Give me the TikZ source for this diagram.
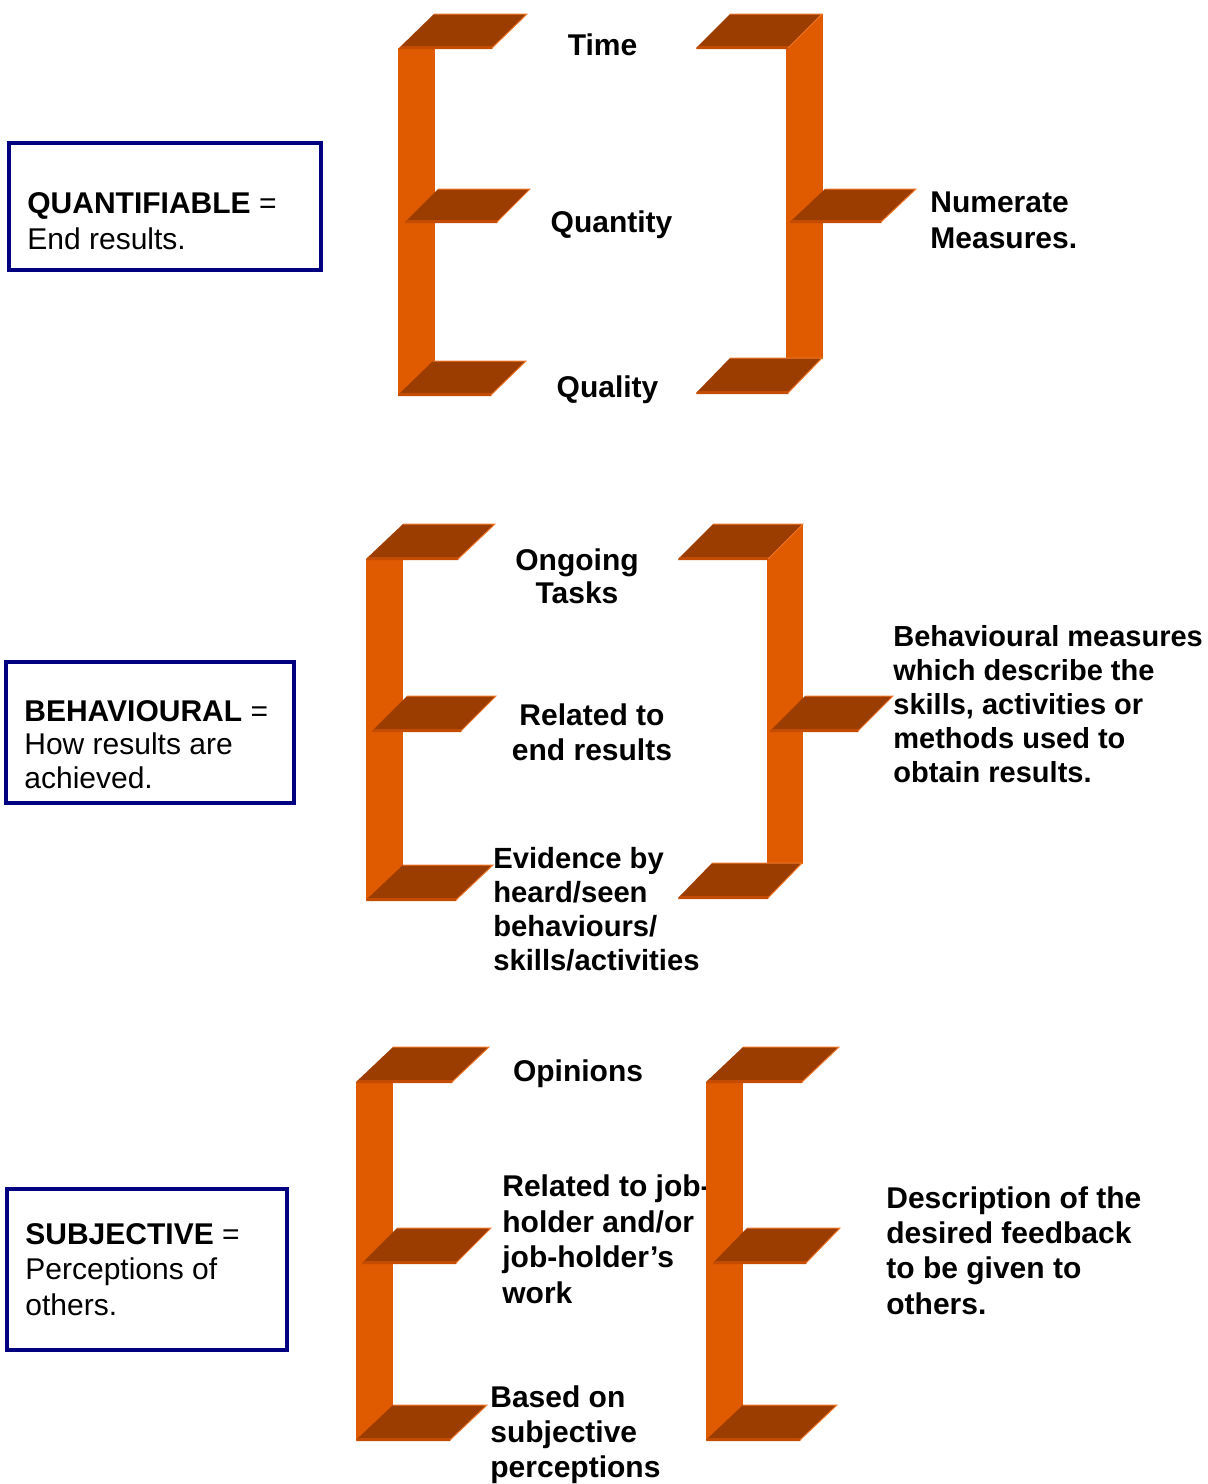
\documentclass[tikz,border=0pt]{standalone}
\usepackage{fontspec}
\setmainfont{Liberation Sans}
\definecolor{barorange}{RGB}{224,90,0}
\definecolor{shelfbrown}{RGB}{155,60,0}
\definecolor{shelfstrip}{RGB}{196,76,0}
\definecolor{shelfedge}{RGB}{240,120,40}
\definecolor{boxnavy}{RGB}{0,0,128}
\newcommand\mkshelf[5]{%
  \fill[shelfbrown] (#1,#2) -- ({#1+#5},#2) -- ({#3+#5},#4) -- (#3,#4) -- cycle;
  \fill[shelfstrip] (#1,{#2+1}) -- ({#1+#5},{#2+1}) -- ({#1+#5+2},{#2-2}) -- ({#1+2},{#2-2}) -- cycle;
  \draw[shelfedge, line width=0.5pt] (#3,#4) -- ({#3+#5},#4) -- ({#1+#5},#2);
}
\newcommand\mkbar[4]{\fill[barorange] (#1,#2) rectangle (#3,#4);}
\tikzset{
  lbl/.style={inner sep=0pt, align=left, font=\fontsize{15}{17}\selectfont\bfseries},
  boxtxt/.style={inner sep=0pt, align=left},
  navybox/.style={draw=boxnavy, line width=2.2pt},
}
\begin{document}
\begin{tikzpicture}[x=0.5pt, y=-0.5pt]
\useasboundingbox (0,0) rectangle (1208,1484);
% ---------- texts (base anchor = baseline of last line) ----------
\node[lbl, anchor=base] (time) at (602.5,55) {Time};
\node[lbl, anchor=base] (quantity) at (611.5,232) {Quantity};
\node[lbl, anchor=base] (quality) at (607.5,397) {Quality};
\node[lbl, anchor=base west, font=\fontsize{15}{18}\selectfont\bfseries] (numerate) at (930,248) {Numerate\\Measures.};
\node[lbl, anchor=base, align=center, font=\fontsize{15}{16.5}\selectfont\bfseries] (ongoing) at (577,603) {Ongoing\\Tasks};
\node[lbl, anchor=base, align=center, font=\fontsize{15}{17.5}\selectfont\bfseries] (related1) at (592,760) {Related to\\end results};
\node[lbl, anchor=base west, font=\fontsize{14.6}{16.85}\selectfont\bfseries] (evidence) at (493,970) {Evidence by\\heard/seen\\behaviours/\\skills/activities};
\node[lbl, anchor=base west, font=\fontsize{14.5}{16.9}\selectfont\bfseries] (behmeas) at (893,782) {Behavioural measures\\which describe the\\skills, activities or\\methods used to\\obtain results.};
\node[lbl, anchor=base] (opinions) at (578,1081) {Opinions};
\node[lbl, anchor=base west, font=\fontsize{15}{17.75}\selectfont\bfseries] (related2) at (502,1303) {Related to job-\\holder and/or\\job-holder’s\\work};
\node[lbl, anchor=base west, font=\fontsize{15}{17.5}\selectfont\bfseries] (based) at (490,1477) {Based on\\subjective\\perceptions};
\node[lbl, anchor=base west, font=\fontsize{15}{17.65}\selectfont\bfseries] (descr) at (886,1314) {Description of the\\desired feedback\\to be given to\\others.};
% ---------- boxes ----------
\draw[navybox] (9,143) rectangle (321,270);
\draw[navybox] (6,662) rectangle (294,803);
\draw[navybox] (7,1189) rectangle (287,1350);
\node[boxtxt, anchor=base west, font=\fontsize{15}{18}\selectfont] (quant) at (27,249) {\textbf{QUANTIFIABLE} =\\End results.};
\node[boxtxt, anchor=base west, font=\fontsize{15}{16.65}\selectfont] (behav) at (24,788) {\textbf{BEHAVIOURAL} =\\How results are\\achieved.};
\node[boxtxt, anchor=base west, font=\fontsize{15}{17.75}\selectfont] (subj) at (25,1315) {\textbf{SUBJECTIVE} =\\Perceptions of\\others.};
% ---------- bracket set 1 ----------
\mkbar{398}{48}{435}{396}
\mkshelf{399}{48}{434}{14}{93}
\mkshelf{405}{222}{438}{189}{92}
\mkshelf{398}{395}{433}{361}{93}
\mkbar{786}{14}{823}{359}
\mkshelf{696}{48}{730}{14}{92}
\mkshelf{790}{222}{825}{189}{91}
\mkshelf{696}{393}{730}{358}{92}
% ---------- bracket set 2 ----------
\mkbar{366}{559}{403}{900}
\mkshelf{366}{559}{403}{524}{92}
\mkshelf{372}{731}{407}{696}{89}
\mkshelf{366}{900}{403}{865}{90}
\mkbar{767}{524}{803}{864}
\mkshelf{678}{559}{713}{524}{90}
\mkshelf{770}{731}{805}{696}{88}
\mkshelf{678}{898}{712}{863}{90}
% ---------- bracket set 3 ----------
\mkbar{356}{1082}{393}{1440}
\mkshelf{356}{1082}{393}{1047}{96}
\mkshelf{362}{1263}{397}{1228}{94}
\mkshelf{356}{1440}{393}{1405}{94}
\mkbar{706}{1082}{743}{1440}
\mkshelf{706}{1082}{743}{1047}{96}
\mkshelf{713}{1263}{747}{1228}{93}
\mkshelf{706}{1440}{743}{1405}{94}
\end{tikzpicture}
\end{document}
